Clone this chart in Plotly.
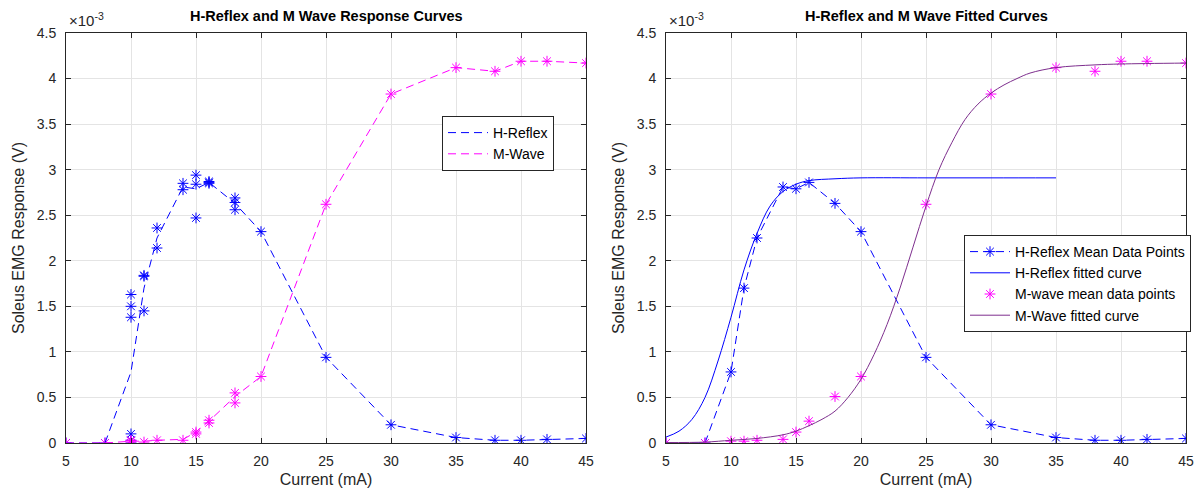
import plotly.graph_objects as go

# ---------------- data (units of 1e-3 V) ----------------
# Left: individual trial data
h_trial_x = [5, 8, 10, 10, 10, 10, 10, 10, 11, 11, 11, 12, 12, 14, 14, 15, 15, 15,
             16, 16, 16, 18, 18, 18, 20, 25, 30, 35, 38, 40, 42, 45]
h_trial_y = [0.0, 0.0, 1.63, 1.50, 1.38, 0.10, 0.03, 0.0, 1.84, 1.83, 1.45, 2.36, 2.14,
             2.85, 2.78, 2.94, 2.84, 2.47, 2.86, 2.85, 2.87, 2.69, 2.64, 2.56, 2.32,
             0.94, 0.20, 0.06, 0.03, 0.03, 0.04, 0.05]
m_trial_x = [5, 8, 10, 10, 10, 11, 12, 14, 15, 15, 16, 16, 18, 18, 20, 25, 30, 35,
             38, 40, 42, 45]
m_trial_y = [0.0, 0.0, 0.03, 0.0, 0.02, 0.01, 0.03, 0.03, 0.12, 0.10, 0.25, 0.22,
             0.55, 0.44, 0.73, 2.62, 3.83, 4.12, 4.08, 4.19, 4.19, 4.17]

# Mean data points
mean_x = [5, 8, 10, 11, 12, 14, 15, 16, 18, 20, 25, 30, 35, 38, 40, 42, 45]
h_mean = [0.0, 0.0, 0.78, 1.70, 2.25, 2.81, 2.79, 2.86, 2.63, 2.32, 0.94, 0.20,
          0.06, 0.03, 0.03, 0.04, 0.05]
m_mean = [0.0, 0.0, 0.02, 0.02, 0.03, 0.04, 0.12, 0.24, 0.51, 0.73, 2.62, 3.83,
          4.12, 4.08, 4.19, 4.19, 4.17]

# Fitted curves
h_fit_x = [5, 6, 7, 8, 9, 10, 11, 12, 13, 14, 15, 16, 18, 20, 25, 30, 35]
h_fit_y = [0.065, 0.13, 0.26, 0.50, 0.90, 1.38, 1.90, 2.30, 2.60, 2.76, 2.84, 2.88,
           2.90, 2.91, 2.91, 2.91, 2.91]
m_fit_x = [5, 8, 10, 12, 14, 15, 16, 17, 18, 19, 20, 21, 22, 23, 24, 25, 26, 27, 28,
           29, 30, 31, 32, 33, 35, 38, 40, 45]
m_fit_y = [0.005, 0.01, 0.03, 0.05, 0.09, 0.13, 0.19, 0.26, 0.35, 0.50, 0.70, 0.97,
           1.30, 1.70, 2.15, 2.60, 3.00, 3.30, 3.55, 3.72, 3.84, 3.93, 4.00, 4.06,
           4.12, 4.15, 4.16, 4.17]

x_ticks = [5, 10, 15, 20, 25, 30, 35, 40, 45]
y_ticks = [0, 0.5, 1, 1.5, 2, 2.5, 3, 3.5, 4, 4.5]
y_tick_text = ["0", "0.5", "1", "1.5", "2", "2.5", "3", "3.5", "4", "4.5"]

titles = ["H-Reflex and M Wave Response Curves", "H-Reflex and M Wave Fitted Curves"]

BLUE = "rgb(0,0,255)"
MAG = "rgb(255,0,255)"
PURPLE = "rgb(126,47,142)"
FONT = "Liberation Sans, Arial, sans-serif"
AXC = "rgb(38,38,38)"

fig = go.Figure()
star = dict(symbol="asterisk-open", size=9)

# ---- left plot ----
fig.add_trace(go.Scatter(x=h_trial_x, y=h_trial_y, mode="markers", xaxis="x", yaxis="y",
                         marker=dict(color=BLUE, line=dict(color=BLUE, width=1), **star),
                         showlegend=False))
fig.add_trace(go.Scatter(x=m_trial_x, y=m_trial_y, mode="markers", xaxis="x", yaxis="y",
                         marker=dict(color=MAG, line=dict(color=MAG, width=1), **star),
                         showlegend=False))
fig.add_trace(go.Scatter(x=mean_x, y=h_mean, mode="lines", name="H-Reflex", xaxis="x", yaxis="y",
                         line=dict(color=BLUE, width=1, dash="8px,5px"), legend="legend"))
fig.add_trace(go.Scatter(x=mean_x, y=m_mean, mode="lines", name="M-Wave", xaxis="x", yaxis="y",
                         line=dict(color=MAG, width=1, dash="8px,5px"), legend="legend"))

# ---- right plot ----
fig.add_trace(go.Scatter(x=mean_x, y=h_mean, mode="lines+markers", name="H-Reflex Mean Data Points",
                         xaxis="x2", yaxis="y2",
                         line=dict(color=BLUE, width=1, dash="8px,5px"),
                         marker=dict(color=BLUE, line=dict(color=BLUE, width=1), **star),
                         legend="legend2"))
fig.add_trace(go.Scatter(x=h_fit_x, y=h_fit_y, mode="lines", name="H-Reflex fitted curve",
                         xaxis="x2", yaxis="y2", line=dict(color=BLUE, width=1, shape="spline"),
                         legend="legend2"))
fig.add_trace(go.Scatter(x=mean_x, y=m_mean, mode="markers", name="M-wave mean data points",
                         xaxis="x2", yaxis="y2",
                         marker=dict(color=MAG, line=dict(color=MAG, width=1), **star),
                         legend="legend2"))
fig.add_trace(go.Scatter(x=m_fit_x, y=m_fit_y, mode="lines", name="M-Wave fitted curve",
                         xaxis="x2", yaxis="y2", line=dict(color=PURPLE, width=1, shape="spline"),
                         legend="legend2"))

W, H = 1198, 496
L1, R1, L2, R2, T, B = 66, 586, 666, 1186, 33, 443
dom_y = [1 - B / H, 1 - T / H]

def xax(dom):
    return dict(domain=dom, range=[5, 45], tickvals=x_ticks, ticks="inside", ticklen=5,
                showline=True, linecolor=AXC, linewidth=1, mirror="ticks", tickcolor=AXC,
                showgrid=True, gridcolor="rgb(228,228,228)", zeroline=False, automargin=False,
                ticklabelstandoff=5,
                tickfont=dict(size=14, color=AXC, family=FONT),
                title=dict(text="Current (mA)", font=dict(size=16, color=AXC, family=FONT), standoff=6))

def yax(anchor):
    return dict(domain=dom_y, range=[0, 4.5], tickvals=y_ticks, ticktext=y_tick_text, anchor=anchor,
                ticks="inside", ticklen=5, showline=True, linecolor=AXC, linewidth=1, mirror="ticks",
                tickcolor=AXC, showgrid=True, gridcolor="rgb(228,228,228)", zeroline=False,
                automargin=False, ticklabelstandoff=6,
                tickfont=dict(size=14, color=AXC, family=FONT),
                title=dict(text="Soleus EMG Response (V)", font=dict(size=16, color=AXC, family=FONT),
                           standoff=8))

annotations = []
for i, (l, r) in enumerate([(L1, R1), (L2, R2)]):
    annotations.append(dict(x=(l + r) / 2 / W, y=1 - 16 / H, xref="paper", yref="paper",
                            text="<b>" + titles[i] + "</b>", showarrow=False,
                            font=dict(size=14.5, color="black", family=FONT),
                            xanchor="center", yanchor="middle"))
    annotations.append(dict(x=(l + 1) / W, y=1 - 19 / H, xref="paper", yref="paper",
                            text="×10<sup>-3</sup>", showarrow=False,
                            font=dict(size=15, color=AXC, family=FONT),
                            xanchor="left", yanchor="middle"))

legend_style = dict(bgcolor="white", bordercolor=AXC, borderwidth=1,
                    font=dict(size=14, color="black", family=FONT),
                    xref="paper", yref="paper", xanchor="right", yanchor="top",
                    tracegroupgap=0, itemwidth=40)

fig.update_layout(
    width=W, height=H, margin=dict(l=0, r=0, t=0, b=0),
    paper_bgcolor="white", plot_bgcolor="white",
    xaxis=xax([L1 / W, R1 / W]), yaxis=yax("x"),
    xaxis2=xax([L2 / W, R2 / W]), yaxis2=yax("x2"),
    legend=dict(x=554 / W, y=1 - 116 / H, **legend_style),
    legend2=dict(x=1191 / W, y=1 - 235 / H, **legend_style),
    annotations=annotations,
)

fig.write_html("out.html")
